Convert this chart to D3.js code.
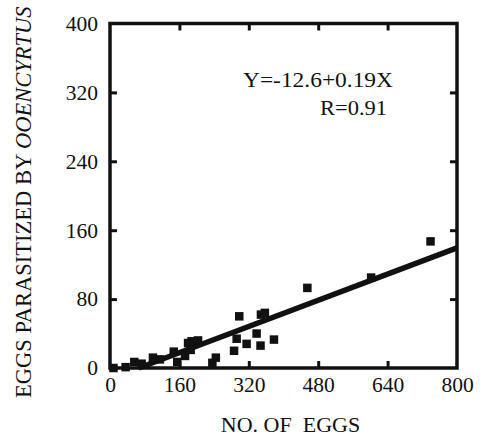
<!DOCTYPE html>
<html><head><meta charset="utf-8">
<script src="https://cdn.jsdelivr.net/npm/d3@7"></script>
<style>
html,body{margin:0;padding:0;background:#fff;}
svg{display:block;}
</style></head>
<body>
<svg id="chart" width="483" height="438"></svg>
<script>
// Data
const eggs       = [8, 36, 56, 73, 99, 115, 147, 155, 173, 180, 186, 188, 203, 236, 244, 286, 292, 298, 315, 338, 347, 348, 357, 378, 455, 602, 739];
const parasitized= [0, 1, 7, 5, 12, 10, 19, 7, 14, 29, 21, 31, 32, 6, 12, 20, 34, 60, 28, 40, 26, 62, 64, 33, 93, 105, 147];
const xTicks = [0, 160, 320, 480, 640, 800];
const yTicks = [0, 80, 160, 240, 320, 400];
const intercept = -12.6, slope = 0.19;
const eqText = "Y=-12.6+0.19X";
const rText = "R=0.91";

const FONT = "'Liberation Serif', 'DejaVu Serif', serif";
const svg = d3.select("#chart").attr("font-family", FONT);
const L = 110, R = 457, T = 23.5, B = 368;
const x = d3.scaleLinear().domain([0, 800]).range([L, R]);
const y = d3.scaleLinear().domain([0, 400]).range([B, T]);
const tickLen = 7;

function styleAxis(g){
  g.attr("font-family", FONT);
  g.select(".domain").remove();
  g.selectAll(".tick line").attr("stroke","#111").attr("stroke-width",3);
  g.selectAll(".tick text").attr("font-family", FONT).attr("font-size", 21.5).attr("fill","#111");
}
const inner = v => v !== 0 && v !== 800 && v !== 400;
svg.append("g").attr("transform",`translate(0,${B})`)
  .call(d3.axisBottom(x).tickValues(xTicks).tickSize(-tickLen).tickPadding(9).tickFormat(d3.format("d")))
  .call(styleAxis)
  .call(g=>g.selectAll(".tick line").filter(d=>!inner(d)).remove());
svg.append("g").attr("transform",`translate(0,${T})`)
  .call(d3.axisTop(x).tickValues(xTicks.filter(inner)).tickSize(-tickLen).tickFormat(""))
  .call(styleAxis);
svg.append("g").attr("transform",`translate(${L},0)`)
  .call(d3.axisLeft(y).tickValues(yTicks).tickSize(-tickLen).tickPadding(12).tickFormat(d3.format("d")))
  .call(styleAxis)
  .call(g=>g.selectAll(".tick line").filter(d=>!inner(d)).remove());
svg.append("g").attr("transform",`translate(${R},0)`)
  .call(d3.axisRight(y).tickValues(yTicks.filter(inner)).tickSize(-tickLen).tickFormat(""))
  .call(styleAxis);

// frame
svg.append("rect").attr("x",L).attr("y",T).attr("width",R-L).attr("height",B-T)
  .attr("fill","none").attr("stroke","#111").attr("stroke-width",3.5);

// regression line
const x0 = -intercept/slope;
svg.append("line")
  .attr("x1",x(x0)).attr("y1",y(0))
  .attr("x2",x(800)).attr("y2",y(intercept+slope*800))
  .attr("stroke","#111").attr("stroke-width",5.5);

// points
const s = 8.5;
svg.append("g").selectAll("rect").data(eggs.map((e,i)=>[e,parasitized[i]])).join("rect")
  .attr("x",d=>x(d[0])-s/2).attr("y",d=>y(d[1])-s/2)
  .attr("width",s).attr("height",s).attr("fill","#111");

// annotation
svg.append("text").attr("x",243).attr("y",87).attr("textLength",150).attr("lengthAdjust","spacingAndGlyphs")
  .attr("font-size",22).attr("fill","#111").text(eqText);
svg.append("text").attr("x",320).attr("y",115).attr("textLength",67).attr("lengthAdjust","spacingAndGlyphs")
  .attr("font-size",22).attr("fill","#111").text(rText);

// axis titles
svg.append("text").attr("x",290.5).attr("y",432).attr("text-anchor","middle")
  .attr("font-size",22).attr("fill","#111").attr("xml:space","preserve").style("white-space","pre").text("NO. OF  EGGS");
const yl = svg.append("text").attr("transform","translate(31,398) rotate(-90)")
  .attr("font-size",22.5).attr("fill","#111");
yl.append("tspan").text("EGGS PARASITIZED BY ");
yl.append("tspan").attr("font-style","italic").text("OOENCYRTUS");
</script>
</body></html>
